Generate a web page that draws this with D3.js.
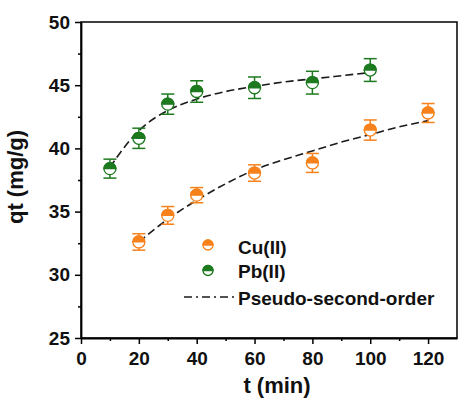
<!DOCTYPE html>
<html>
<head>
<meta charset="utf-8">
<script src="https://cdn.jsdelivr.net/npm/d3@7"></script>
<style>
  body { margin: 0; background: #fff; }
  text { font-family: Arial, "Liberation Sans", sans-serif; font-weight: bold; }
</style>
</head>
<body>
<svg id="chart"></svg>
<script>
// measured points (t in min, qt in mg/g, error bar half-width)
const cuT = [20, 30, 40, 60, 80, 100, 120];
const cuQ = [32.6, 34.7, 36.3, 38.05, 38.85, 41.45, 42.8];
const cuErr = [0.65, 0.7, 0.6, 0.65, 0.75, 0.8, 0.75];

const pbT = [10, 20, 30, 40, 60, 80, 100];
const pbQ = [38.4, 40.8, 43.5, 44.5, 44.8, 45.2, 46.2];
const pbErr = [0.75, 0.8, 0.8, 0.85, 0.85, 0.9, 0.9];

// pseudo-second-order fit
const cuFitT = [20, 30, 40, 50, 60, 70, 80, 90, 100, 110, 120];
const cuFitQ = [32.6, 34.4, 35.9, 37.2, 38.3, 39.1, 39.8, 40.5, 41.1, 41.7, 42.2];
const pbFitT = [10, 15, 20, 30, 40, 50, 60, 70, 80, 90, 100];
const pbFitQ = [38.5, 40.1, 41.4, 43.0, 43.9, 44.5, 44.9, 45.25, 45.5, 45.75, 46.0];

const xTicks = [0, 20, 40, 60, 80, 100, 120];
const yTicks = [25, 30, 35, 40, 45, 50];
const legendLabels = ['Cu(II)', 'Pb(II)', 'Pseudo-second-order'];

const width = 458,
  height = 401,
  margin = {top: 22, right: 1, bottom: 63, left: 81};

const orange = '#f7821c',
  green = '#1d7a1f';

const svg = d3.select('#chart')
  .attr('width', width)
  .attr('height', height);

const x = d3.scaleLinear().domain([0, 130]).range([margin.left, width - margin.right]);
const y = d3.scaleLinear().domain([25, 50]).range([height - margin.bottom, margin.top]);

// frame
svg.append('rect')
  .attr('x', x(0))
  .attr('y', y(50))
  .attr('width', x(130) - x(0))
  .attr('height', y(25) - y(50))
  .attr('fill', 'none')
  .attr('stroke', '#000')
  .attr('stroke-width', 1.5);

// axes
svg.append('g')
  .attr('transform', `translate(0,${y(25)})`)
  .call(d3.axisBottom(x).tickValues(xTicks).tickSize(6).tickSizeOuter(0).tickPadding(8));
svg.append('g')
  .attr('transform', `translate(0,${y(25)})`)
  .call(d3.axisBottom(x).tickValues(d3.range(10, 130, 20)).tickSize(3).tickFormat(''))
  .call(g => g.select('.domain').remove());

svg.append('g')
  .attr('transform', `translate(${x(0)},0)`)
  .call(d3.axisLeft(y).tickValues(yTicks).tickSize(6).tickSizeOuter(0).tickPadding(5));
svg.append('g')
  .attr('transform', `translate(${x(0)},0)`)
  .call(d3.axisLeft(y).tickValues(d3.range(27.5, 50, 5)).tickSize(3).tickFormat(''))
  .call(g => g.select('.domain').remove());

svg.selectAll('.domain').attr('stroke-width', 1.8);
svg.selectAll('.tick line').attr('stroke-width', 1.5);
svg.selectAll('.tick text')
  .attr('font-size', 19)
  .attr('font-family', 'Arial, "Liberation Sans", sans-serif')
  .attr('font-weight', 'bold')
  .attr('fill', '#111');

// axis titles
svg.append('text')
  .attr('x', 277)
  .attr('y', 393)
  .attr('text-anchor', 'middle')
  .attr('font-size', 22)
  .attr('fill', '#111')
  .text('t (min)');

svg.append('text')
  .attr('transform', 'translate(23,177) rotate(-90)')
  .attr('text-anchor', 'middle')
  .attr('font-size', 22)
  .attr('fill', '#111')
  .text('qt (mg/g)');

// fit curves
const line = d3.line()
  .x(d => x(d[0]))
  .y(d => y(d[1]))
  .curve(d3.curveMonotoneX);

[[cuFitT, cuFitQ], [pbFitT, pbFitQ]].forEach(([ts, qs]) => {
  svg.append('path')
    .datum(ts.map((t, i) => [t, qs[i]]))
    .attr('d', line)
    .attr('fill', 'none')
    .attr('stroke', '#1a1a1a')
    .attr('stroke-width', 1.6)
    .attr('stroke-dasharray', '8,4');
});

// half filled marker
function marker(g, cx, cy, r, color) {
  g.append('circle')
    .attr('cx', cx).attr('cy', cy).attr('r', r)
    .attr('fill', '#fff')
    .attr('stroke', color)
    .attr('stroke-width', 1.3);
  g.append('path')
    .attr('d', `M${cx - r},${cy} A${r},${r} 0 0 1 ${cx + r},${cy} Z`)
    .attr('fill', color)
    .attr('stroke', color)
    .attr('stroke-width', 1.3);
}

// points with error bars
[[cuT, cuQ, cuErr, orange], [pbT, pbQ, pbErr, green]].forEach(([ts, qs, es, color]) => {
  const g = svg.append('g');
  ts.forEach((t, i) => {
    const cx = x(t), cap = 6.5;
    g.append('line')
      .attr('x1', cx).attr('x2', cx)
      .attr('y1', y(qs[i] + es[i])).attr('y2', y(qs[i] - es[i]))
      .attr('stroke', color).attr('stroke-width', 1.5);
    [qs[i] + es[i], qs[i] - es[i]].forEach(v => {
      g.append('line')
        .attr('x1', cx - cap).attr('x2', cx + cap)
        .attr('y1', y(v)).attr('y2', y(v))
        .attr('stroke', color).attr('stroke-width', 1.5);
    });
    marker(g, cx, y(qs[i]), 6, color);
  });
});

// legend
const legend = svg.append('g');
marker(legend, 208, 245, 5, orange);
marker(legend, 208, 270.5, 5, green);
legend.append('line')
  .attr('x1', 184).attr('x2', 234)
  .attr('y1', 297).attr('y2', 297)
  .attr('stroke', '#1a1a1a')
  .attr('stroke-width', 1.6)
  .attr('stroke-dasharray', '8,4,2,4');

legend.selectAll('text.lbl')
  .data(legendLabels)
  .enter().append('text')
  .attr('class', 'lbl')
  .attr('x', 238)
  .attr('y', (d, i) => [253.5, 277.5, 304.5][i])
  .attr('font-size', 19)
  .attr('fill', '#111')
  .text(d => d);
</script>
</body>
</html>
